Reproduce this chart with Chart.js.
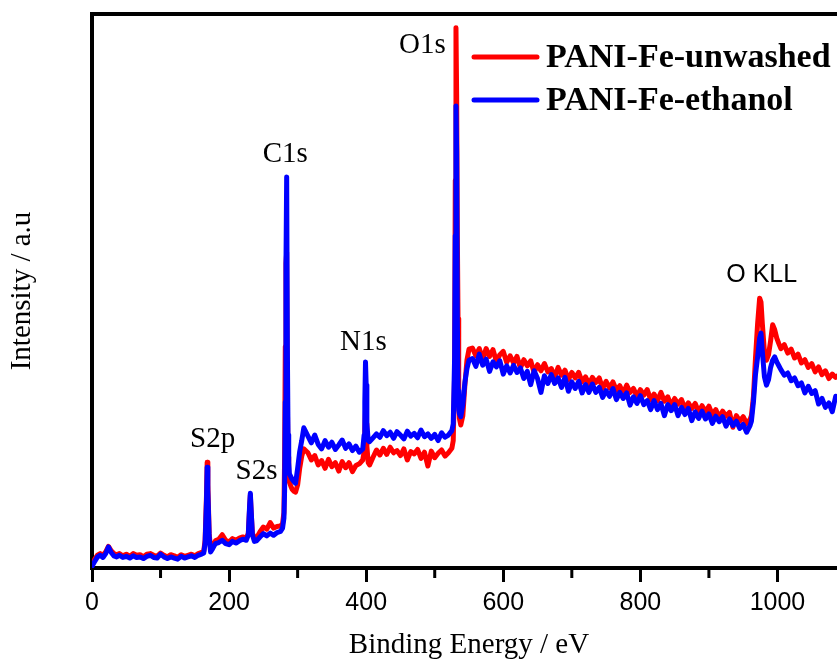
<!DOCTYPE html>
<html>
<head>
<meta charset="utf-8">
<script src="https://cdn.jsdelivr.net/npm/chart.js@4.4.0/dist/chart.umd.min.js"></script>
<style>
  html, body { margin: 0; padding: 0; background: #fff; overflow: hidden; }
  #wrap { width: 850px; height: 663px; }
</style>
</head>
<body>
<div id="wrap"><canvas id="xps" width="850" height="663"></canvas></div>
<script>
// ===== data =====
const seriesLabels = ['PANI-Fe-unwashed', 'PANI-Fe-ethanol'];
const xTickLabels = [0, 200, 400, 600, 800, 1000];
const peakNames = ['S2p', 'S2s', 'C1s', 'N1s', 'O1s', 'O KLL'];

// binding energy, eV
const energy = [
  0, 4, 8, 12, 16, 20, 24, 28, 32, 36, 40, 45, 50, 55, 60, 65, 70, 75, 80, 85,
  90, 95, 100, 105, 110, 115, 120, 125, 130, 135, 140, 145, 150, 155, 160,
  163, 165, 167, 168, 169, 171, 173, 176, 180,
  185, 190, 195, 200, 205, 210, 215, 220, 225,
  228, 230, 231, 232, 234, 237,
  240, 245, 250, 255, 260, 265, 270, 275, 278,
  280, 281, 282, 283, 284, 285, 286, 287, 288, 290, 292, 295, 297, 300, 303, 306, 309,
  315, 320, 325, 330, 335, 340, 345, 350, 355, 360, 365, 370, 375, 380, 385, 390, 395,
  397, 398, 399, 400, 401, 403,
  405, 410, 415, 420, 425, 430, 435, 440, 445, 450, 455, 460, 465, 470, 475, 480, 485,
  490, 495, 500, 505, 510, 515, 520, 525,
  527, 529, 530, 531, 532, 533, 534, 535, 536, 538, 541, 544, 547, 550,
  555, 560, 565, 570, 575, 580, 585, 590, 595, 600,
  605, 610, 615, 620, 625, 630, 635, 640, 645, 650,
  655, 660, 665, 670, 675, 680, 685, 690, 695, 700,
  705, 710, 715, 720, 725, 730, 735, 740, 745, 750,
  755, 760, 765, 770, 775, 780, 785, 790, 795, 800,
  805, 810, 815, 820, 825, 830, 835, 840, 845, 850,
  855, 860, 865, 870, 875, 880, 885, 890, 895, 900,
  905, 910, 915, 920, 925, 930, 935, 940, 945, 950,
  955, 960,
  962, 965, 968, 971, 974, 976, 978, 981, 984, 987, 990, 993, 996, 999, 1002, 1005,
  1010, 1015, 1020, 1025, 1030, 1035, 1040, 1045, 1050, 1055, 1060, 1065, 1070, 1075,
  1080, 1085, 1090, 1095, 1100
];

// intensity (a.u.) - unwashed sample
const unwashed = [
  0.5, 1.6, 2.3, 2.6, 2.3, 2.9, 3.9, 3.1, 2.6, 2.4, 2.6,
  2.2, 2.5, 2.1, 2.6, 2.3, 2.4, 2.0, 2.5, 2.6, 2.3,
  2.1, 2.7, 2.3, 2.0, 2.4, 2.2, 1.9, 2.4, 2.1, 2.3,
  2.5, 2.2, 2.6, 2.8,
  3.0, 5.0, 13.0, 19.1, 15.0, 6.2, 3.4, 4.0, 4.9,
  5.2, 6.0, 5.0, 4.7, 5.3, 5.0, 5.4, 5.6, 5.4,
  6.2, 11.0, 13.2, 10.5, 6.3, 5.3,
  5.4, 6.5, 7.4, 7.0, 8.2, 7.2, 7.5, 7.6, 8.0,
  10, 20, 40, 55, 57, 30, 20, 16.5, 15.5, 14.8, 14.2, 13.8, 13.7, 15.0, 18.0, 20.2, 21.5,
  20.8, 19.5, 20.3, 18.6, 19.4, 18.0, 19.6, 18.3, 19.0, 17.5, 19.2, 18.1, 19.0, 17.4, 18.5, 18.8, 19.5,
  21.0, 25.0, 28.5, 26.0, 22.0, 19.0,
  18.6, 20.0, 21.3, 20.4, 21.6, 20.5, 21.8, 20.8, 21.2, 20.3,
  21.5, 19.5, 21.0, 20.6, 21.4, 19.8, 20.9, 18.4, 21.1, 19.9,
  20.7, 21.3, 20.2, 20.8, 21.6,
  23.0, 35, 70, 97.5, 85, 60, 45, 32, 27, 25.8, 27.5, 33, 37.5, 39.5,
  39.7, 38.3, 39.6, 37.7, 39.6, 38.2, 39.4, 37.3, 38.5, 39.1,
  37.1, 38.3, 37.0, 38.2, 36.1, 37.6, 36.5, 37.4, 35.3, 36.7,
  35.6, 36.9, 35.4, 36.0, 34.5, 36.2, 34.8, 35.7, 34.0, 35.3,
  34.3, 35.3, 33.6, 34.5, 33.2, 34.4, 33.5, 34.3, 32.4, 33.7,
  32.5, 33.6, 32.1, 32.9, 31.5, 33.0, 31.7, 32.4, 31.0, 32.2,
  31.2, 32.2, 30.4, 31.4, 30.2, 31.7, 30.1, 30.9, 29.3, 30.6,
  29.6, 30.4, 28.8, 29.8, 28.8, 29.7, 28.2, 29.3, 28.2, 29.2,
  27.7, 28.6, 27.2, 28.3, 27.4, 28.1, 25.4, 27.5, 26.5, 27.3,
  26.1, 26.8,
  27.5, 31, 38, 44, 48.7, 48.0, 44, 39, 37.5, 38.5, 41, 43.9, 43.0, 41.5, 40.5, 39.6,
  40.3, 38.8, 39.5, 37.9, 38.6, 37.0, 37.6, 36.2, 36.9, 35.4, 36.3, 34.9, 35.6, 34.2,
  35.0, 34.4, 34.9, 34.5, 34.7
];

// intensity (a.u.) - ethanol washed sample
const ethanol = [
  0.3, 1.2, 2.0, 2.3, 1.9, 2.6, 3.8, 2.8, 2.2, 2.0, 2.3,
  1.9, 2.1, 1.8, 2.2, 1.9, 2.0, 1.7, 2.1, 2.3, 1.9,
  1.8, 2.5, 2.0, 1.7, 2.0, 1.8, 1.6, 2.1, 1.8, 2.0,
  2.2, 1.9, 2.3, 2.5,
  2.7, 4.5, 12.0, 18.2, 14.0, 5.5, 2.9, 3.5, 4.4,
  4.6, 5.0, 4.4, 4.2, 4.8, 4.5, 4.9, 5.2, 5.0,
  6.0, 11.5, 13.5, 11.0, 6.0, 4.8,
  4.9, 5.6, 6.2, 5.8, 6.3, 5.9, 6.4, 6.6, 7.2,
  9.0, 14, 30, 55, 70.6, 40, 24, 19, 17, 16.5, 16.0, 15.5, 15.3, 18.0, 21.0, 23.0, 25.3,
  23.8, 22.6, 24.0, 22.3, 21.5, 23.0, 21.8, 22.7, 21.4, 22.2, 23.1, 21.6, 22.4, 21.2, 22.0, 20.9, 21.5,
  24.0, 30.0, 37.2, 33.0, 26.0, 23.0,
  22.8, 23.5, 24.2, 23.6, 24.8, 23.9, 24.5, 23.4, 24.6, 24.0,
  23.3, 24.7, 23.8, 24.3, 23.5, 24.9, 23.7, 24.2, 23.4, 24.1,
  23.0, 24.4, 23.6, 24.0, 24.8,
  26.0, 38, 60, 83.4, 75, 45, 32, 28.5, 27.8, 27.3, 29.5, 33.5, 36.0, 37.5,
  37.8, 36.4, 38.6, 36.6, 37.7, 35.5, 37.2, 36.3, 37.4, 35.0,
  36.5, 35.2, 36.6, 35.3, 36.1, 34.2, 35.5, 33.1, 35.6, 34.2,
  31.7, 34.7, 33.3, 34.9, 33.3, 34.3, 32.6, 34.4, 31.9, 33.6,
  32.4, 33.7, 31.6, 33.1, 31.7, 33.2, 31.7, 32.6, 30.8, 32.0,
  31.0, 32.4, 30.4, 31.7, 30.6, 31.6, 29.4, 30.9, 29.7, 31.1,
  29.5, 30.2, 28.6, 30.2, 28.6, 29.7, 27.5, 29.5, 28.4, 29.5,
  27.5, 29.0, 27.7, 28.8, 26.6, 28.2, 27.0, 28.3, 26.9, 27.8,
  26.1, 27.4, 26.4, 27.3, 25.6, 26.9, 25.7, 26.5, 25.2, 25.9,
  24.5, 25.7,
  26.5, 30, 35, 38, 41.5, 42.4, 39, 34.5, 33.0, 34.0, 36.2, 37.5, 38.1, 37.2, 36.5, 35.8,
  34.8, 35.2, 33.8, 34.3, 32.9, 33.4, 31.6, 32.8, 31.5, 32.0, 29.6, 30.6, 29.0, 29.8,
  28.2, 31.0, 30.6, 31.2, 30.8
];

// where each peak name sits (eV, intensity), same order as peakNames
const peakLabelAt = [[176, 21.8], [240, 16.1], [282, 73.3], [396, 39.4], [482, 93.0], [977, 51.6]];

const serif = '"Liberation Serif", "Times New Roman", serif';
const sans = '"Liberation Sans", Arial, sans-serif';

// ===== plugins =====
const framePlugin = {
  id: 'frame',
  afterDraw(chart) {
    const { ctx, chartArea } = chart;
    ctx.save();
    ctx.strokeStyle = '#000';
    ctx.lineWidth = 4;
    ctx.beginPath();
    ctx.moveTo(chartArea.left - 2, chartArea.top);
    ctx.lineTo(chartArea.right + 2, chartArea.top);
    ctx.moveTo(chartArea.right, chartArea.top);
    ctx.lineTo(chartArea.right, chartArea.bottom);
    ctx.stroke();

    // minor ticks half way between the labelled ones
    const xs = chart.scales.x;
    const t = xs.ticks.map(k => k.value);
    ctx.lineWidth = 3;
    ctx.beginPath();
    for (let i = 0; i < t.length; i++) {
      const mid = i < t.length - 1 ? (t[i] + t[i + 1]) / 2 : t[i] + (t[1] - t[0]) / 2;
      if (mid > xs.max) continue;
      const px = xs.getPixelForValue(mid);
      ctx.moveTo(px, chartArea.bottom);
      ctx.lineTo(px, chartArea.bottom + 10);
    }
    ctx.stroke();
    ctx.restore();
  }
};

const peakLabelPlugin = {
  id: 'peakLabels',
  afterDatasetsDraw(chart) {
    const { ctx } = chart;
    const xs = chart.scales.x, ys = chart.scales.y;
    ctx.save();
    ctx.fillStyle = '#000';
    ctx.textAlign = 'center';
    ctx.textBaseline = 'alphabetic';
    peakNames.forEach((name, i) => {
      ctx.font = name === 'O KLL' ? '25px ' + sans : '29px ' + serif;
      ctx.fillText(name, xs.getPixelForValue(peakLabelAt[i][0]), ys.getPixelForValue(peakLabelAt[i][1]));
    });
    ctx.restore();
  }
};

const legendPlugin = {
  id: 'boxLegend',
  afterDraw(chart) {
    const { ctx } = chart;
    // draw in legend order: unwashed (red) then ethanol (blue)
    const rows = [chart.data.datasets[1], chart.data.datasets[0]];
    ctx.save();
    rows.forEach((ds, i) => {
      const y = 57 + i * 43;
      ctx.strokeStyle = ds.borderColor;
      ctx.lineWidth = 5;
      ctx.lineCap = 'round';
      ctx.beginPath();
      ctx.moveTo(474, y);
      ctx.lineTo(537, y);
      ctx.stroke();
      ctx.fillStyle = '#000';
      ctx.font = 'bold 34px ' + serif;
      ctx.textAlign = 'left';
      ctx.textBaseline = 'alphabetic';
      ctx.fillText(ds.label, 546, y + 10);
    });
    ctx.restore();
  }
};

// ===== chart =====
const toPoints = arr => energy.map((e, i) => ({ x: e, y: arr[i] }));

new Chart(document.getElementById('xps'), {
  type: 'line',
  data: {
    datasets: [
      // ethanol first so it is painted on top of the red trace
      { label: seriesLabels[1], data: toPoints(ethanol), borderColor: '#0000ff' },
      { label: seriesLabels[0], data: toPoints(unwashed), borderColor: '#ff0000' }
    ]
  },
  options: {
    responsive: false,
    animation: false,
    layout: { padding: { top: 14, right: 4, left: 0, bottom: 0 } },
    elements: {
      point: { radius: 0 },
      line: { borderWidth: 5, tension: 0, borderJoinStyle: 'round', borderCapStyle: 'round', fill: false }
    },
    plugins: { legend: { display: false }, tooltip: { enabled: false } },
    scales: {
      x: {
        type: 'linear',
        min: 0,
        max: 1100,
        afterFit: s => { s.height = 95; },
        border: { color: '#000', width: 4 },
        grid: { drawOnChartArea: false, drawTicks: true, tickLength: 14, tickWidth: 3, tickColor: '#000' },
        ticks: {
          stepSize: 200,
          includeBounds: false,
          autoSkip: false,
          maxRotation: 0,
          color: '#000',
          padding: 6,
          font: { family: sans, size: 25 },
          callback: v => xTickLabels.includes(v) ? String(v) : ''
        },
        title: {
          display: true,
          text: 'Binding Energy / eV',
          color: '#000',
          font: { family: serif, size: 29 },
          padding: { top: 0, bottom: 0 }
        }
      },
      y: {
        min: 0,
        max: 100,
        afterFit: s => { s.width = 92; },
        border: { color: '#000', width: 4 },
        grid: { drawOnChartArea: false, drawTicks: false },
        ticks: { display: false },
        title: {
          display: true,
          text: 'Intensity / a.u',
          color: '#000',
          font: { family: serif, size: 29 },
          padding: { top: 5, bottom: 0 }
        }
      }
    }
  },
  plugins: [framePlugin, peakLabelPlugin, legendPlugin]
});
</script>
</body>
</html>
